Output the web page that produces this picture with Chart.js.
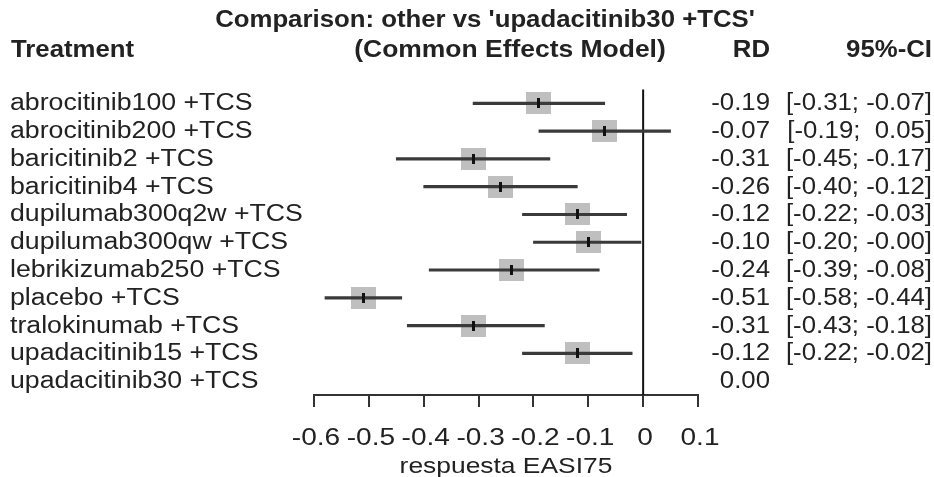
<!DOCTYPE html>
<html>
<head>
<meta charset="utf-8">
<script src="https://cdn.jsdelivr.net/npm/chart.js@4.4.1/dist/chart.umd.min.js"></script>
<style>
  body { margin: 0; background: #fff; }
  canvas { display: block; }
</style>
</head>
<body>
<canvas id="forest" width="934" height="477"></canvas>
<script>
// dados
const tratamentos = [
    'abrocitinib100 +TCS', 'abrocitinib200 +TCS', 'baricitinib2 +TCS', 'baricitinib4 +TCS',
    'dupilumab300q2w +TCS', 'dupilumab300qw +TCS', 'lebrikizumab250 +TCS', 'placebo +TCS',
    'tralokinumab +TCS', 'upadacitinib15 +TCS', 'upadacitinib30 +TCS'
];
const rd = [-0.19, -0.07, -0.31, -0.26, -0.12, -0.10, -0.24, -0.51, -0.31, -0.12, 0.00];
const ciInf = [-0.31, -0.19, -0.45, -0.40, -0.22, -0.20, -0.39, -0.58, -0.43, -0.22, null];
const ciSup = [-0.07, 0.05, -0.17, -0.12, -0.03, -0.004, -0.08, -0.44, -0.18, -0.02, null];
const ticksX = [-0.6, -0.5, -0.4, -0.3, -0.2, -0.1, 0, 0.1];
const tituloEixo = 'respuesta EASI75';

const fonte = '"Liberation Sans", Arial, sans-serif';
const corTexto = '#222';

// quadrado cinza e tracinho preto como estilos de ponto
function fazerEstilo(w, h, cor) {
    const c = document.createElement('canvas');
    c.width = w;
    c.height = h;
    const g = c.getContext('2d');
    g.fillStyle = cor;
    g.fillRect(0, 0, w, h);
    return c;
}
const quadrado = fazerEstilo(25, 22, '#bfbfbf');
const tracinho = fazerEstilo(3, 10, '#111');

function fmt(v) {
    const s = v.toFixed(2);
    return s[0] === '-' ? s : ' ' + s;
}

// só as linhas que têm intervalo
const pontos = [];
tratamentos.forEach((t, i) => {
    if (ciInf[i] !== null) pontos.push({ x: rd[i], y: t });
});

// texto esticado na horizontal, como na figura
function texto(ctx, txt, x, y, alinh, sx, peso, tam) {
    ctx.save();
    ctx.font = (peso || 'normal') + ' ' + tam + 'px ' + fonte;
    ctx.fillStyle = corTexto;
    ctx.textAlign = alinh;
    ctx.textBaseline = 'alphabetic';
    ctx.translate(x, y);
    ctx.scale(sx, 1);
    ctx.fillText(txt, 0, 0);
    ctx.restore();
}

const textos = {
    id: 'textos',
    beforeDatasetsDraw(chart) {
        const ctx = chart.ctx;
        const x = chart.scales.x;
        const area = chart.chartArea;
        // linha vertical no zero
        const x0 = x.getPixelForValue(0);
        ctx.save();
        ctx.strokeStyle = '#111';
        ctx.lineWidth = 2;
        ctx.beginPath();
        ctx.moveTo(x0, area.top);
        ctx.lineTo(x0, area.bottom);
        ctx.stroke();
        ctx.restore();
    },
    afterDraw(chart) {
        const ctx = chart.ctx;
        const x = chart.scales.x;
        const y = chart.scales.y;
        const meio = (chart.chartArea.left + chart.chartArea.right) / 2;

        texto(ctx, "Comparison: other vs 'upadacitinib30 +TCS'", 485, 27, 'center', 1.12, 'bold', 23);
        texto(ctx, '(Common Effects Model)', meio + 4, 57, 'center', 1.15, 'bold', 23);
        texto(ctx, 'Treatment', 11, 57, 'left', 1.12, 'bold', 23);
        texto(ctx, 'RD', 770, 57, 'right', 1.12, 'bold', 23);
        texto(ctx, '95%-CI', 932, 57, 'right', 1.12, 'bold', 23);

        tratamentos.forEach((t, i) => {
            const py = y.getPixelForValue(i) + 7;
            texto(ctx, t, 10, py, 'left', 1.16, 'normal', 23);
            texto(ctx, rd[i].toFixed(2), 770, py, 'right', 1.12, 'normal', 23);
            if (ciInf[i] !== null) {
                texto(ctx, '[' + fmt(ciInf[i]) + ';' + fmt(ciSup[i]).padStart(6, ' ') + ']', 932, py, 'right', 1.12, 'normal', 23);
            }
        });

        ticksX.forEach(v => {
            texto(ctx, String(v), x.getPixelForValue(v) + 2, 445, 'center', 1.22, 'normal', 23);
        });
        texto(ctx, tituloEixo, meio, 473, 'center', 1.2, 'normal', 22);
    }
};

new Chart(document.getElementById('forest'), {
    type: 'bar',
    data: {
        labels: tratamentos,
        datasets: [
            {
                type: 'scatter',
                data: pontos,
                pointStyle: quadrado,
                order: 3
            },
            {
                type: 'bar',
                data: tratamentos.map((t, i) => ciInf[i] === null ? null : [ciInf[i], ciSup[i]]),
                backgroundColor: '#3a3a3a',
                borderWidth: 0,
                barThickness: 2.5,
                order: 2
            },
            {
                type: 'scatter',
                data: pontos,
                pointStyle: tracinho,
                order: 1
            }
        ]
    },
    options: {
        indexAxis: 'y',
        responsive: false,
        animation: false,
        events: [],
        layout: { padding: { left: 314, right: 236, top: 89.5, bottom: 70 } },
        scales: {
            x: {
                type: 'linear',
                min: -0.6,
                max: 0.1,
                ticks: { display: false, stepSize: 0.1 },
                grid: { drawOnChartArea: false, color: '#333', lineWidth: 2, tickLength: 12 },
                border: { display: true, color: '#333', width: 2 }
            },
            y: {
                type: 'category',
                display: false,
                offset: true
            }
        },
        plugins: {
            legend: { display: false },
            tooltip: { enabled: false }
        }
    },
    plugins: [textos]
});
</script>
</body>
</html>
